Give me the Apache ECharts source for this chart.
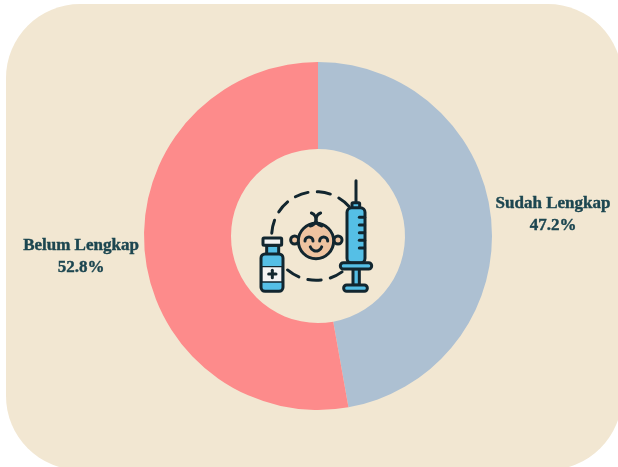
<!DOCTYPE html>
<html>
<head>
<meta charset="utf-8">
<style>
html, body { margin: 0; padding: 0; background: #fff; }
#chart { width: 618px; height: 467px; }
</style>
<script src="https://cdn.jsdelivr.net/npm/echarts@6/dist/echarts.min.js"></script>
</head>
<body>
<div id="chart"></div>
<script>
var categories = ['Sudah Lengkap', 'Belum Lengkap'];
var values = [47.2, 52.8];
var colors = ['#adc0d2', '#fd8b8b'];

var ink = '#12262f';
var blue = '#55bfe6';
var skin = '#eec3a0';
var lw = 9;

function rect(x, y, w, h, r, fill) {
	return { type: 'rect', shape: { x: x, y: y, width: w, height: h, r: r }, style: { fill: fill, stroke: ink, lineWidth: lw } };
}
function line(x1, y1, x2, y2, w) {
	return { type: 'line', shape: { x1: x1, y1: y1, x2: x2, y2: y2 }, style: { stroke: ink, lineWidth: w || lw, lineCap: 'round' } };
}
function arc(cx, cy, r, a, b, dash) {
	var style = { fill: null, stroke: ink, lineWidth: lw, lineCap: 'round' };
	if (dash) style.lineDash = dash;
	return { type: 'arc', shape: { cx: cx, cy: cy, r: r, startAngle: a, endAngle: b, clockwise: true }, style: style };
}
function circle(cx, cy, r, fill) {
	return { type: 'circle', shape: { cx: cx, cy: cy, r: r }, style: { fill: fill, stroke: ink, lineWidth: lw } };
}

// icon in the middle of the ring, drawn in the zoomed crop's coordinates
var icon = [
	arc(258, 228, 133, Math.PI * 1.02, Math.PI * 1.77, [40, 28]),
	arc(258, 228, 133, Math.PI * 0.3, Math.PI * 0.75, [40, 28]),
	// baby
	circle(194, 240, 12, skin),
	circle(324, 240, 12, skin),
	circle(258, 243, 53, skin),
	arc(237, 243, 12, Math.PI, Math.PI * 2),
	arc(281, 243, 12, Math.PI, Math.PI * 2),
	arc(258, 255, 18, Math.PI * 0.1, Math.PI * 0.9),
	arc(238, 178, 20, Math.PI * 1.6, Math.PI * 0.45),
	arc(278, 178, 20, Math.PI * 0.55, Math.PI * 1.4),
	// bottle
	rect(110, 256, 36, 30, 2, blue),
	rect(93, 282, 66, 112, 12, blue),
	{ type: 'rect', shape: { x: 96, y: 320, width: 60, height: 46 }, style: { fill: '#f3f3f3', stroke: ink, lineWidth: 4 } },
	rect(99, 234, 56, 22, 3, '#f3f3f3'),
	line(127, 331, 127, 353, 9),
	line(116, 342, 138, 342, 9),
	// syringe
	line(378, 62, 378, 128),
	rect(366, 128, 23, 18, 3, blue),
	rect(351, 143, 54, 166, 14, blue),
	line(404, 172, 388, 172), line(404, 195, 388, 195), line(404, 218, 388, 218), line(404, 241, 388, 241), line(404, 264, 388, 264),
	rect(369, 326, 19, 50, 0, blue),
	rect(331, 308, 94, 19, 9, blue),
	rect(341, 375, 71, 19, 9, blue)
];

var chart = echarts.init(document.getElementById('chart'));
chart.setOption({
	animation: false,
	backgroundColor: '#fff',
	color: colors,
	graphic: [
		{ type: 'rect', z: -1, shape: { x: 6, y: 4, width: 616, height: 466, r: 74 }, style: { fill: '#f2e7d2' } },
		{ type: 'group', x: 230, y: 160, scaleX: 1 / 3, scaleY: 1 / 3, children: icon }
	],
	series: [{
		type: 'pie',
		center: [318, 236],
		radius: [87, 174],
		startAngle: 90,
		clockwise: true,
		data: categories.map(function(name, i) {
			return { name: name, value: values[i] };
		}),
		label: {
			show: true,
			position: 'outside',
			formatter: '{b}\n{d}%',
			fontFamily: 'Liberation Serif',
			fontWeight: 'bold',
			fontSize: 17,
			lineHeight: 22,
			color: '#1c4650',
			textBorderColor: '#1c4650',
			textBorderWidth: 0.4,
			textAlign: 'center',
			overflow: 'none',
			width: 160,
			distanceToLabelLine: 0
		},
		labelLine: { show: false, length: 2, length2: 0 },
		labelLayout: function(params) {
			var right = params.dataIndex === 0;
			return { x: right ? 553 : 81, y: right ? 215 : 257, align: 'center', verticalAlign: 'middle' };
		},
		emphasis: { disabled: true }
	}]
});
</script>
</body>
</html>
